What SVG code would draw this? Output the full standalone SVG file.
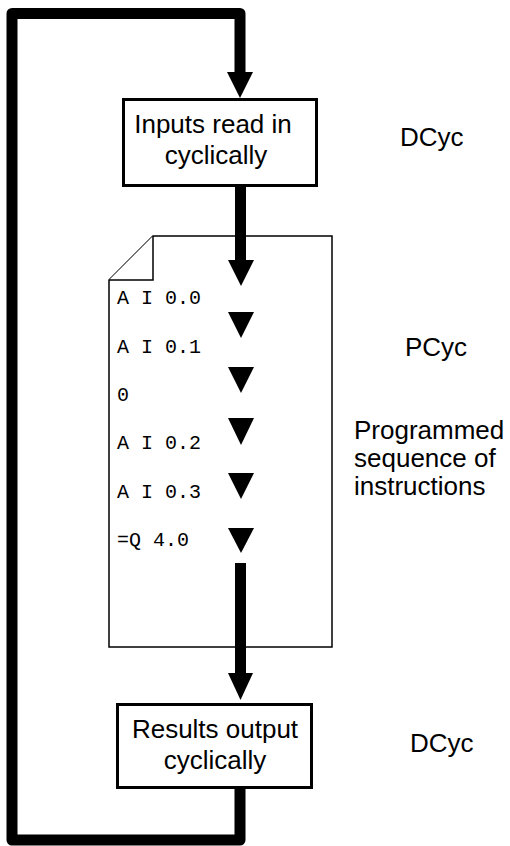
<svg xmlns="http://www.w3.org/2000/svg" width="510" height="846" viewBox="0 0 510 846">
<defs>
<style>
.box{fill:#fff;stroke:#000;stroke-width:3}
.doc{fill:#fff;stroke:#000;stroke-width:1.5}
.lbl{font-family:"Liberation Sans",Arial,sans-serif;font-size:26px;fill:#000}
.mid{text-anchor:middle}
.code{font-family:"Liberation Mono","Courier New",monospace;font-size:20px;fill:#000}
.thick{fill:none;stroke:#000;stroke-width:11;stroke-linejoin:round}
.tri{fill:#000}
</style>
</defs>
<rect width="510" height="846" fill="#fff"/>
<g id="program">
<path class="doc" d="M153,236 H332 V647 H109 V280 Z"/>
<path class="doc" fill="none" d="M109,280 H153 V236"/>
<text class="code" x="117" y="304">A I 0.0</text>
<text class="code" x="117" y="353">A I 0.1</text>
<text class="code" x="117" y="401">0</text>
<text class="code" x="117" y="449">A I 0.2</text>
<text class="code" x="117" y="498">A I 0.3</text>
<text class="code" x="117" y="546">=Q 4.0</text>
</g>
<g id="connectors">
<path class="thick" d="M240,789 V840 H12 V13.5 H240 V73"/>
<polygon class="tri" points="227,72 253,72 240,98"/>
<path class="thick" d="M240.5,187 V261"/>
<polygon class="tri" points="228,260 254,260 241,286"/>
<polygon class="tri" points="228,312 254,312 241,338"/>
<polygon class="tri" points="228,367 254,367 241,393"/>
<polygon class="tri" points="228,418 254,418 241,445"/>
<polygon class="tri" points="228,473 254,473 241,499"/>
<polygon class="tri" points="228,528 254,528 241,553"/>
<path class="thick" d="M240.5,563 V674"/>
<polygon class="tri" points="228,673 253,673 240.5,700"/>
</g>
<g id="inputs">
<rect class="box" x="123.5" y="99.5" width="193" height="86"/>
<text class="lbl mid" x="213" y="133">Inputs read in</text>
<text class="lbl mid" x="216" y="164">cyclically</text>
</g>
<g id="outputs">
<rect class="box" x="117.5" y="704.5" width="194" height="83"/>
<text class="lbl mid" x="215" y="738">Results output</text>
<text class="lbl mid" x="215" y="769">cyclically</text>
</g>
<g id="labels">
<text class="lbl" x="400" y="146">DCyc</text>
<text class="lbl" x="405" y="356">PCyc</text>
<text class="lbl" x="354" y="439">Programmed</text>
<text class="lbl" x="354" y="467">sequence of</text>
<text class="lbl" x="354" y="495">instructions</text>
<text class="lbl" x="410" y="752">DCyc</text>
</g>
</svg>
